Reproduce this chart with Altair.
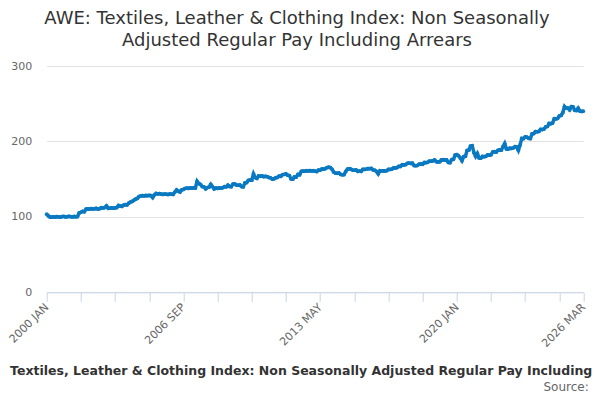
import pandas as pd
import altair as alt

FONT = 'DejaVu Sans'
LINE_COLOR = '#0a79c2'

# monthly index values, 2000 JAN .. 2026 MAR, one row per year
y2000 = [103.5, 101.2, 99.6, 99.8, 100.1, 99.5, 100.3, 100.0, 99.7, 100.4, 100.6, 99.9]
y2001 = [100.2, 100.8, 100.3, 99.9, 100.5, 100.1, 100.4, 105.2, 106.1, 107.3, 106.8, 110.2]
y2002 = [110.6, 110.1, 111.0, 110.4, 110.8, 111.2, 110.3, 110.9, 112.1, 111.8, 112.4, 114.6]
y2003 = [111.3, 111.6, 112.0, 111.5, 111.9, 112.3, 115.1, 114.4, 113.9, 115.6, 116.2, 115.8]
y2004 = [118.1, 119.6, 120.4, 122.0, 123.5, 124.4, 126.9, 127.6, 128.2, 127.8, 128.4, 128.0]
y2005 = [128.6, 128.1, 125.6, 129.2, 131.0, 130.4, 130.8, 130.2, 129.8, 130.3, 130.0, 129.6]
y2006 = [130.4, 130.1, 129.8, 132.9, 135.7, 134.1, 133.0, 135.8, 136.4, 137.6, 138.2, 137.8]
y2007 = [138.4, 138.0, 138.6, 138.3, 147.2, 144.1, 143.0, 140.2, 139.8, 137.2, 138.9, 139.4]
y2008 = [143.1, 140.2, 137.1, 138.3, 137.8, 138.4, 138.0, 138.6, 140.1, 139.7, 142.0, 140.3]
y2009 = [140.0, 143.4, 143.8, 142.2, 141.8, 142.3, 140.1, 139.8, 145.0, 145.4, 148.3, 148.8]
y2010 = [148.6, 157.0, 152.1, 151.0, 154.2, 153.8, 154.3, 153.3, 153.8, 153.4, 152.2, 151.8]
y2011 = [150.1, 150.4, 152.0, 152.3, 154.1, 153.8, 156.0, 156.3, 157.1, 155.2, 154.8, 150.3]
y2012 = [150.0, 153.1, 152.8, 156.2, 155.8, 160.4, 160.8, 160.5, 161.2, 160.8, 161.3, 160.9]
y2013 = [161.2, 160.7, 160.0, 162.1, 161.8, 163.5, 163.2, 163.8, 165.4, 165.8, 165.3, 163.0]
y2014 = [159.2, 158.1, 157.8, 158.3, 156.2, 155.8, 156.1, 160.2, 163.4, 163.8, 163.3, 162.1]
y2015 = [161.8, 162.2, 160.4, 160.8, 160.3, 163.1, 162.8, 163.3, 164.1, 163.8, 164.3, 162.2]
y2016 = [161.8, 160.1, 157.0, 161.2, 160.8, 161.1, 160.7, 161.3, 163.0, 162.8, 163.3, 165.1]
y2017 = [164.8, 165.3, 167.0, 166.8, 169.1, 168.8, 169.3, 171.0, 171.3, 170.8, 171.2, 168.1]
y2018 = [167.8, 168.3, 170.0, 170.3, 169.8, 172.1, 171.8, 172.4, 174.0, 173.8, 174.3, 175.6]
y2019 = [173.2, 172.8, 173.1, 175.4, 175.8, 175.3, 175.6, 172.1, 171.8, 176.0, 176.3, 182.0]
y2020 = [182.4, 181.0, 178.1, 174.5, 180.0, 180.3, 188.0, 188.4, 193.8, 194.3, 185.1, 180.2]
y2021 = [184.1, 178.2, 177.8, 180.1, 179.8, 180.3, 182.1, 181.8, 182.3, 186.0, 186.4, 185.8]
y2022 = [188.3, 188.7, 188.4, 193.0, 197.2, 190.1, 189.8, 191.0, 190.8, 191.3, 193.1, 192.8]
y2023 = [188.2, 195.3, 204.0, 203.6, 206.1, 205.8, 204.1, 203.8, 210.0, 210.4, 213.1, 212.8]
y2024 = [213.3, 216.0, 215.8, 216.4, 219.3, 219.8, 224.0, 223.6, 224.4, 230.1, 229.8, 230.6]
y2025 = [234.0, 234.4, 238.1, 246.3, 244.0, 244.2, 241.8, 246.0, 245.7, 241.2, 241.0, 244.1]
y2026 = [240.2, 239.8, 240.1]

years = [y2000, y2001, y2002, y2003, y2004, y2005, y2006, y2007, y2008, y2009,
         y2010, y2011, y2012, y2013, y2014, y2015, y2016, y2017, y2018, y2019,
         y2020, y2021, y2022, y2023, y2024, y2025, y2026]

MONTHS = ['JAN', 'FEB', 'MAR', 'APR', 'MAY', 'JUN',
          'JUL', 'AUG', 'SEP', 'OCT', 'NOV', 'DEC']

values = [v for yr in years for v in yr]
df = pd.DataFrame({
    'idx': range(len(values)),
    'label': [f'{2000 + i // 12} {MONTHS[i % 12]}' for i in range(len(values))],
    'value': values,
})

last = len(values) - 1
tick_values = list(range(0, last, 20)) + [last]
labelled = [0, 80, 160, 240, last]
label_expr = ' : '.join(
    f"datum.value == {i} ? '{df.label[i]}'" for i in labelled
) + " : ''"

TITLE = 'AWE: Textiles, Leather & Clothing Index: Non Seasonally Adjusted Regular Pay Including Arrears'

line = alt.Chart(df).mark_line(
    color=LINE_COLOR, strokeWidth=3.5,
    point=alt.OverlayMarkDef(color=LINE_COLOR, size=14, filled=True)
).encode(
    x=alt.X('idx:Q', title=TITLE,
            scale=alt.Scale(domain=[0, last], nice=False, zero=False),
            axis=alt.Axis(values=tick_values, labelExpr=label_expr,
                          labelAngle=-45, labelAlign='right', labelBaseline='middle',
                          labelPadding=4, tickSize=9, tickColor='#c6d4ea',
                          domainColor='#c6d4ea', grid=False, labelColor='#666666',
                          labelFontSize=11, labelFont=FONT,
                          titleFont=FONT, titleFontSize=12.5, titleFontWeight='bold',
                          titleColor='#333333', titleX=262, titleAlign='center',
                          titleY=78, titleBaseline='middle')),
    y=alt.Y('value:Q', title=None,
            scale=alt.Scale(domain=[0, 300], nice=False),
            axis=alt.Axis(values=[0, 100, 200, 300], domain=False, ticks=False,
                          labelPadding=15, labelColor='#666666', labelFontSize=11,
                          labelFont=FONT, gridColor='#e2e2e2')),
    tooltip=['label', 'value']
)

source = alt.Chart(df).mark_text(
    text='Source:', align='right', baseline='alphabetic', font=FONT,
    fontSize=12, color='#666666'
).encode(
    x=alt.value(542), y=alt.value(324.5)
).transform_filter('datum.idx == 0')

chart = alt.layer(line, source).properties(
    width=536.6,
    height=226.3,
    autosize=alt.AutoSizeParams(type='none'),
    padding={'left': 38.7, 'top': 58, 'right': 8.7, 'bottom': 99.7},
    title=alt.TitleParams(
        ['AWE: Textiles, Leather & Clothing Index: Non Seasonally',
         'Adjusted Regular Pay Including Arrears'],
        anchor='middle', dx=-18, offset=10, font=FONT, fontSize=18,
        fontWeight='normal', color='#333333', lineHeight=22
    )
).configure_view(stroke=None)

chart.save('out.html', embed_options={'renderer': 'svg', 'actions': False})
